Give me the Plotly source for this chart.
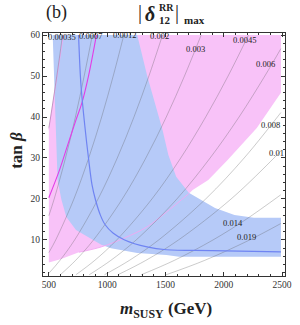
import plotly.graph_objects as go

# ---------------- data ----------------
# pink allowed region (m_SUSY [GeV], tan beta)
pink_m = [500, 500, 625, 2490, 2490, 2283, 2033, 1867, 1733, 1700, 1508, 1342, 1150, 950, 758, 600, 500]
pink_tb = [4.5, 37.0, 60, 60, 45.9, 37.3, 29.5, 24.6, 22.2, 21.3, 16.8, 13.2, 10.5, 8.3, 7.0, 5.3, 4.5]

# blue allowed region
blue_m = [533, 1258, 1342, 1408, 1475, 1525, 1592, 1700, 1783, 1925, 2092, 2258, 2490, 2490,
          1617, 1508, 1258, 1033, 950, 842, 733, 650, 608, 575, 567, 533]
blue_tb = [60, 60, 50.2, 43.4, 36.8, 30.7, 25.4, 21.5, 20.2, 17.8, 16.1, 15.4, 15.4, 5.9,
           5.9, 6.3, 6.8, 8.0, 8.8, 10.5, 12.4, 15.6, 19.8, 24.6, 31.2, 60]

# magenta curve
mag_m = [500, 592, 660, 733, 783, 840, 908]
mag_tb = [20.3, 27.1, 33.0, 39.3, 43.4, 50.0, 60.0]

# blue curve
bline_m = [755, 775, 808, 842, 870, 900, 940, 983, 1050, 1150, 1342, 1508, 1900, 2490]
bline_tb = [60, 48, 38, 29.5, 23.5, 19.8, 16.2, 13.7, 11.7, 10.0, 8.3, 7.6, 7.4, 7.1]

# contour lines of |delta_12^RR|max : (m, tan beta) points
contour_levels = ["0.00035", "0.0007", "0.0012", "0.002", "0.003", "0.0045",
                  "0.006", "0.008", "0.01", "0.014", "0.019"]
contour_m = [
    [500, 515, 560, 590, 617],
    [500, 546, 643, 728, 803, 873],
    [500, 559, 715, 842, 953, 1052, 1143],
    [500, 595, 721, 922, 1087, 1230, 1358, 1475],
    [598, 729, 883, 1130, 1332, 1507, 1663, 1806],
    [732, 893, 1082, 1384, 1631, 1845, 2037, 2212],
    [846, 1031, 1249, 1598, 1883, 2131, 2352, 2490],
    [977, 1190, 1442, 1845, 2175, 2460, 2490],
    [1092, 1331, 1612, 2063, 2431, 2488],
    [1292, 1575, 1908, 2190, 2488],
    [1505, 1835, 2222, 2489],
]
contour_tb = [
    [37.4, 40, 48.4, 54.3, 60],
    [15.9, 20, 30, 40, 50, 60],
    [6.9, 10, 20, 30, 40, 50, 60],
    [1.85, 5, 10, 20, 30, 40, 50, 60],
    [1.5, 5, 10, 20, 30, 40, 50, 60],
    [1.5, 5, 10, 20, 30, 40, 50, 60],
    [1.5, 5, 10, 20, 30, 40, 50, 56.7],
    [1.5, 5, 10, 20, 30, 40, 41.1],
    [1.5, 5, 10, 20, 30, 31.7],
    [1.5, 5, 10, 15, 21.0],
    [1.5, 5, 10, 14.0],
]
label_m = [617, 858, 1150, 1450, 1758, 2175, 2358, 2400, 2450, 2075, 2192]
label_tb = [59.6, 59.8, 60.0, 59.8, 56.6, 58.8, 52.9, 38.0, 31.2, 14.1, 10.7]

x_tickvals = [500, 1000, 1500, 2000, 2500]
y_tickvals = [10, 20, 30, 40, 50, 60]

# ---------------- figure ----------------
fig = go.Figure()
fig.add_trace(go.Scatter(x=pink_m, y=pink_tb, fill="toself", mode="lines",
                         line=dict(width=0), fillcolor="#F8C2F8", hoverinfo="skip"))
fig.add_trace(go.Scatter(x=blue_m, y=blue_tb, fill="toself", mode="lines",
                         line=dict(width=0), fillcolor="#B6CAF8", hoverinfo="skip"))
# pink boundary visible through blue
fig.add_trace(go.Scatter(x=pink_m[9:15], y=pink_tb[9:15], mode="lines",
                         line=dict(color="#F2A8F2", width=0.9, shape="spline"), hoverinfo="skip"))
fig.add_trace(go.Scatter(x=pink_m[1:3], y=pink_tb[1:3], mode="lines",
                         line=dict(color="#F2A8F2", width=0.9), hoverinfo="skip"))

for cm, ct in zip(contour_m, contour_tb):
    fig.add_trace(go.Scatter(x=cm, y=ct, mode="lines",
                             line=dict(color="rgba(90,90,90,0.45)", width=0.7, shape="spline"),
                             hoverinfo="skip"))

fig.add_trace(go.Scatter(x=mag_m, y=mag_tb, mode="lines",
                         line=dict(color="#E23DE6", width=1.1, shape="spline"), hoverinfo="skip"))
fig.add_trace(go.Scatter(x=bline_m, y=bline_tb, mode="lines",
                         line=dict(color="#6F84F2", width=1.2, shape="spline"), hoverinfo="skip"))

serif = "Liberation Serif"
annotations = []
for lv, lm, lt in zip(contour_levels, label_m, label_tb):
    annotations.append(dict(x=lm, y=lt, xref="x", yref="y", text=lv, showarrow=False,
                            font=dict(family=serif, size=8.5, color="#222"),
                            xanchor="center", yanchor="middle"))

axis_common = dict(showgrid=False, zeroline=False, showline=True, linecolor="#333",
                   linewidth=1, mirror="allticks", ticks="inside", ticklen=4,
                   tickcolor="#333", tickwidth=1,
                   tickfont=dict(family=serif, size=9.5, color="#333"))
fig.update_xaxes(range=[450, 2525], tickvals=x_tickvals,
                 minor=dict(dtick=100, ticks="inside", ticklen=2, tickcolor="#333", tick0=500),
                 **axis_common)
fig.update_yaxes(range=[1.2, 60.5], tickvals=y_tickvals,
                 minor=dict(dtick=2, ticks="inside", ticklen=2, tickcolor="#333", tick0=0),
                 **axis_common)

ann = [
    dict(text="(b)", x=57, y=13, font=dict(family=serif, size=18, color="#222")),
    dict(text="|", x=143, y=12, font=dict(family=serif, size=20, color="#222")),
    dict(text="<b><i>δ</i></b>", x=153, y=14, font=dict(family=serif, size=20, color="#222")),
    dict(text="<b>RR</b>", x=170, y=7, font=dict(family=serif, size=10, color="#222")),
    dict(text="<b>12</b>", x=169, y=20, font=dict(family=serif, size=11, color="#222")),
    dict(text="|", x=181, y=12, font=dict(family=serif, size=20, color="#222")),
    dict(text="<b>max</b>", x=199, y=20, font=dict(family=serif, size=11, color="#222")),
    dict(text="<b>tan <i>β</i></b>", x=15, y=150, textangle=-90,
         font=dict(family=serif, size=17, color="#222")),
    dict(text="<b><i>m</i><sub>SUSY</sub> (GeV)</b>", x=170, y=310,
         font=dict(family=serif, size=17, color="#222")),
]
for a in ann:
    d = dict(xref="paper", yref="paper", showarrow=False, xanchor="center", yanchor="middle")
    a = dict(a)
    px, py = a.pop("x"), a.pop("y")
    d["x"] = (px - 43) / 249
    d["y"] = (276 - py) / 243
    d.update(a)
    annotations.append(d)

fig.update_layout(width=300, height=325, showlegend=False,
                  margin=dict(l=43, r=8, t=33, b=49),
                  paper_bgcolor="white", plot_bgcolor="white",
                  annotations=annotations)
fig.write_html("out.html", config={"displayModeBar": False, "staticPlot": True},
               post_script="document.body.style.margin='0';document.body.style.overflow='hidden';")
